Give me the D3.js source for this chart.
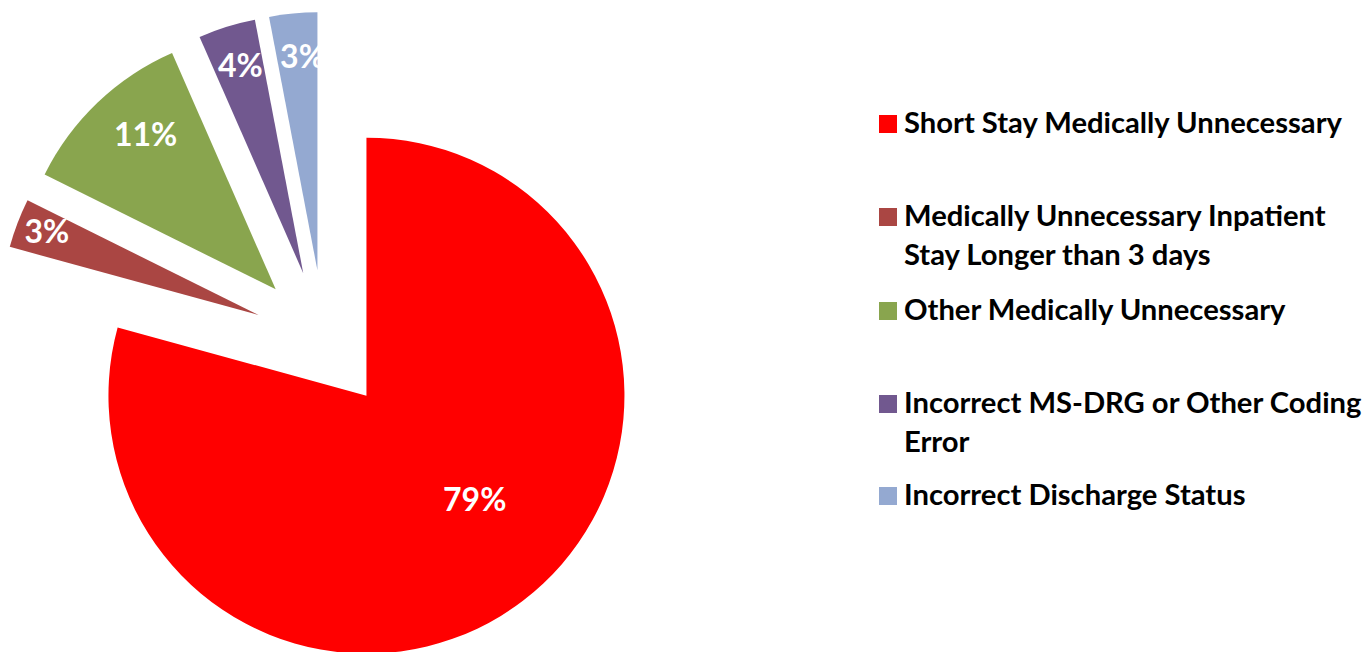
<!DOCTYPE html>
<html>
<head>
<meta charset="utf-8">
<script src="https://cdn.jsdelivr.net/npm/d3@7/dist/d3.min.js"></script>
<style>
  html, body { margin: 0; padding: 0; background: #ffffff; }
  svg { display: block; }
  text { font-family: Lato, "Open Sans", sans-serif; font-weight: 700; }
</style>
</head>
<body>
<svg id="chart" width="1365" height="652"></svg>
<script>
// ---- data ----
const categories = [
  "Short Stay Medically Unnecessary",
  "Medically Unnecessary Inpatient Stay Longer than 3 days",
  "Other Medically Unnecessary",
  "Incorrect MS-DRG or Other Coding Error",
  "Incorrect Discharge Status"
];
const legendLines = [
  ["Short Stay Medically Unnecessary"],
  ["Medically Unnecessary Inpatient", "Stay Longer than 3 days"],
  ["Other Medically Unnecessary"],
  ["Incorrect MS-DRG or Other Coding", "Error"],
  ["Incorrect Discharge Status"]
];
const values = [79.25, 3.08, 11.08, 3.58, 3.0];
const colors = ["#FF0000", "#AA4643", "#89A54E", "#71588F", "#94A9D1"];

// ---- layout ----
const W = 1365, H = 652;
const cx = 324, cy = 340, R = 258, explode = 70;
// label placement (angle in degrees clockwise from 12 o'clock, fraction of radius from slice apex)
const labelAngle = [133.75, 291.5, 319.9, 343.1, 356];
const labelFrac = [0.581, 0.882, 0.783, 0.839, 0.829];
const labelFont = 32, legendFont = 29.2;
const legendX = 879, legendTextX = 904, swatch = 18;
const legendBaselines = [133, 226, 320, 413, 505];
const lineGap = 39;

const svg = d3.select("#chart");
const total = d3.sum(values);
const pie = d3.pie().sort(null).value(d => d).startAngle(0).endAngle(2 * Math.PI);
const arcs = pie(values);
const arc = d3.arc().innerRadius(0).outerRadius(R);

const g = svg.append("g").attr("transform", `translate(${cx},${cy})`);

const slices = g.selectAll("g.slice").data(arcs).enter().append("g")
  .attr("class", "slice")
  .attr("transform", d => {
    const mid = (d.startAngle + d.endAngle) / 2;
    return `translate(${explode * Math.sin(mid)},${-explode * Math.cos(mid)})`;
  });

slices.append("path")
  .attr("d", arc)
  .attr("fill", (d, i) => colors[i]);

slices.append("text")
  .attr("x", (d, i) => labelFrac[i] * R * Math.sin(labelAngle[i] * Math.PI / 180))
  .attr("y", (d, i) => -labelFrac[i] * R * Math.cos(labelAngle[i] * Math.PI / 180) + labelFont * 0.355)
  .attr("text-anchor", "middle")
  .attr("fill", "#ffffff")
  .attr("font-size", labelFont)
  .text(d => Math.round(d.value / total * 100) + "%");

// ---- legend ----
const leg = svg.append("g");
categories.forEach((c, i) => {
  const b = legendBaselines[i];
  leg.append("rect")
    .attr("x", legendX).attr("y", b - swatch)
    .attr("width", swatch).attr("height", swatch)
    .attr("fill", colors[i]);
  const t = leg.append("text")
    .attr("x", legendTextX).attr("y", b)
    .attr("font-size", legendFont)
    .attr("fill", "#000000");
  legendLines[i].forEach((ln, j) => {
    t.append("tspan").attr("x", legendTextX).attr("y", b + j * lineGap).text(ln);
  });
});
</script>
</body>
</html>
